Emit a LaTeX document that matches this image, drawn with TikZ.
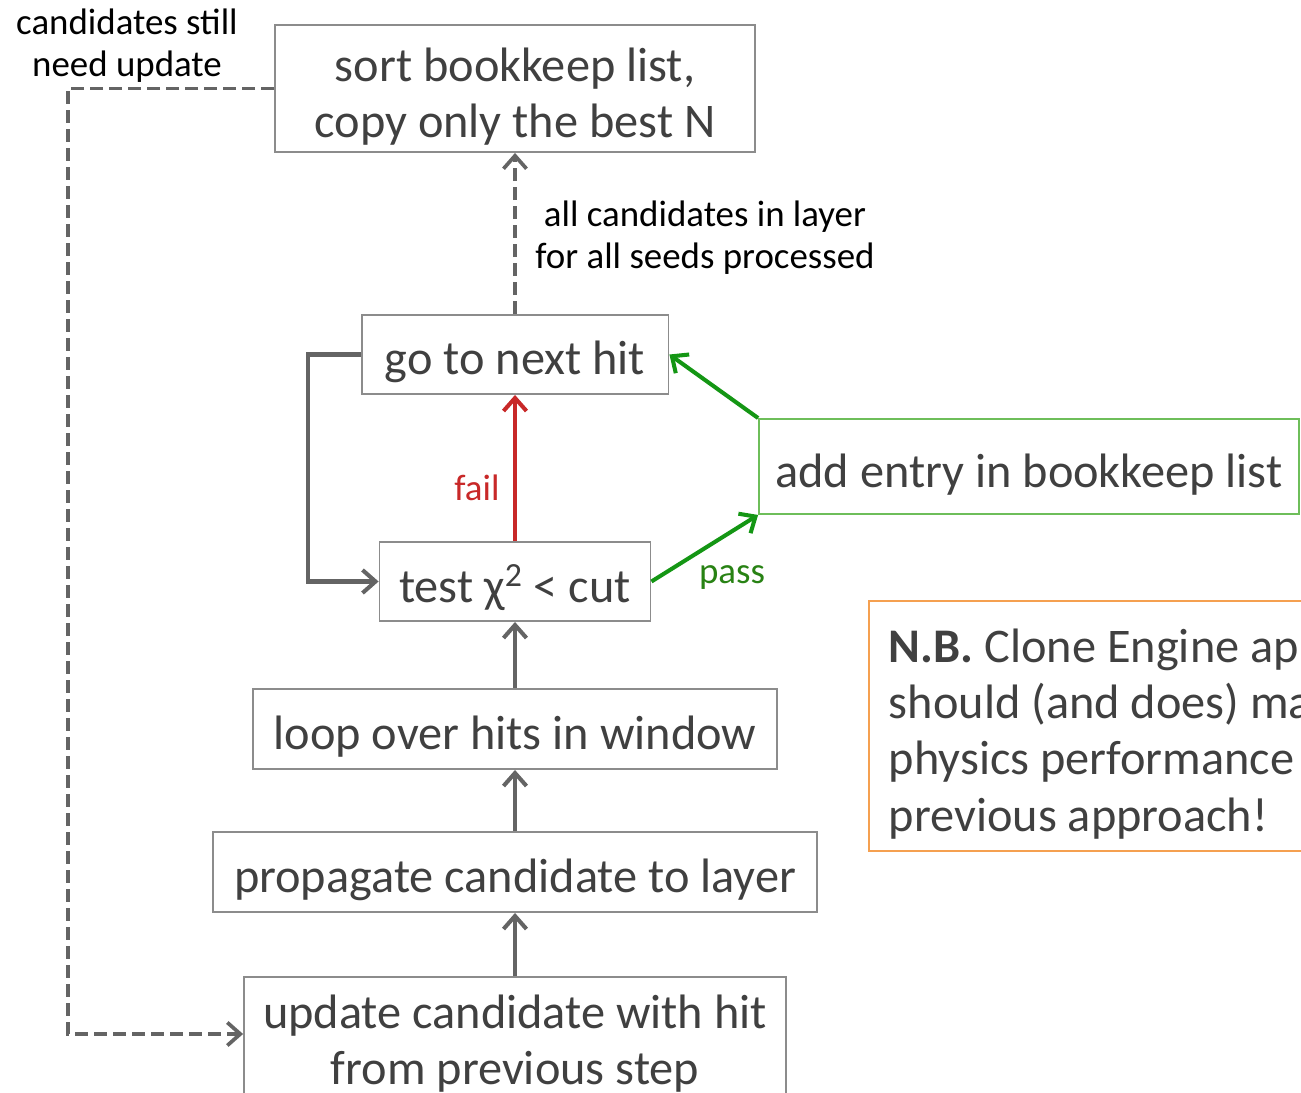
\documentclass[tikz,border=0pt]{standalone}
\usepackage{fontspec}
\setmainfont{Carlito}
\usetikzlibrary{arrows.meta}
\definecolor{boxtext}{RGB}{64,64,64}
\definecolor{boxline}{RGB}{140,140,140}
\definecolor{arrgray}{RGB}{100,100,100}
\definecolor{okgreen}{RGB}{20,150,20}
\definecolor{passgreen}{RGB}{40,130,20}
\definecolor{boxgreen}{RGB}{110,190,90}
\definecolor{failred}{RGB}{200,40,40}
\definecolor{nborange}{RGB}{245,160,80}
\newcommand{\bigtxt}{\fontsize{27.5}{32}\selectfont}
\newcommand{\smalltxt}{\fontsize{21}{24}\selectfont}
\newcommand{\up}{\rule{0pt}{28pt}}

\begin{document}
\begin{tikzpicture}[x=0.02cm, y=-0.02cm,
  stage/.style={draw=boxline, line width=1.1pt, inner sep=0pt,
    text=boxtext, font=\bigtxt, align=center},
  flow/.style={arrgray, line width=2.3pt,
    -{Straight Barb[length=0.26cm,width=0.46cm]}},
  backflow/.style={flow, line width=2.1pt, dash pattern=on 0.26cm off 0.12cm},
  note/.style={font=\smalltxt, align=center}]
\useasboundingbox (0,0) rectangle (1301,1092);
\clip (0,0) rectangle (1301,1092);
\node[stage, minimum width=9.6cm, minimum height=2.54cm] (sort) at (515,88.5)
  {\up sort bookkeep list,\\copy only the best N};
\node[stage, minimum width=6.14cm, minimum height=1.58cm] (next) at (515,354.5)
  {\up go to next hit};
\node[stage, draw=boxgreen, minimum width=10.8cm, minimum height=1.9cm] (add) at (1029,466.5)
  {\up add entry in bookkeep list};
\node[stage, minimum width=5.42cm, minimum height=1.58cm] (test) at (515,581.5)
  {\up test χ\textsuperscript{2} < cut};
\node[stage, minimum width=10.48cm, minimum height=1.6cm] (loop) at (515,729)
  {\up loop over hits in window};
\node[stage, minimum width=12.08cm, minimum height=1.6cm] (prop) at (515,872)
  {\up propagate candidate to layer};
\node[stage, minimum width=10.84cm, minimum height=2.56cm, anchor=north] (upd) at (515,976)
  {\rule{0pt}{22pt}update candidate with hit\\from previous step};
\node[stage, draw=nborange, align=flush left, text width=12cm, inner xsep=0.4cm,
  minimum height=5cm, anchor=west] (nb) at (868,726)
  {\up\textbf{N.B.} Clone Engine approach\\should (and does) match\\physics performance of\\previous approach!};
\node[note] (still) at (127,46) {candidates still\\need update};
\node[note] (done) at (705,238) {all candidates in layer\\for all seeds processed};
\node[note, text=failred] (fail) at (477,488) {fail};
\node[note, text=passgreen] (pass) at (732,578) {pass};
\coordinate (back) at (68,88.5);
\draw[flow] (upd.north) -- (prop.south);
\draw[flow] (prop.north) -- (loop.south);
\draw[flow] (loop.north) -- (test.south);
\draw[flow, failred] (test.north) -- (next.south);
\draw[flow, okgreen] (test.east) -- (add.south west);
\draw[flow, okgreen] (add.north west) -- (next.east);
\draw[flow] (next.west) -- ++(-53,0) |- (test.west);
\draw[backflow] (next.north) -- (sort.south);
\draw[backflow] (sort.west) -- (back) |- ([yshift=-1.16cm]upd.north west);
\end{tikzpicture}
\end{document}
